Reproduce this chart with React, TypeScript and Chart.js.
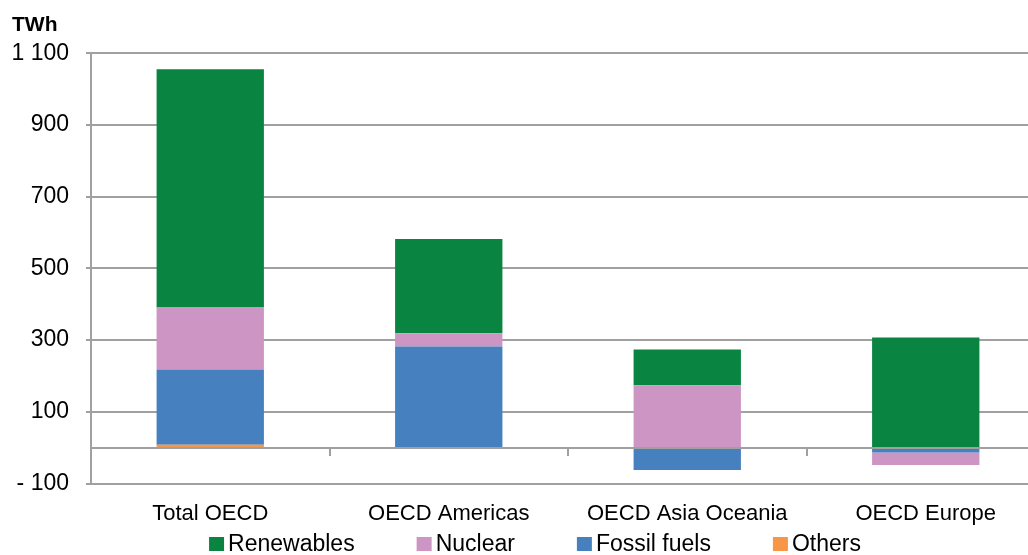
import React, { useEffect, useRef } from "react";
import { Chart, registerables } from "chart.js";

Chart.register(...registerables);

const categories = ["Total OECD", "OECD Americas", "OECD Asia Oceania", "OECD Europe"];
const others = [8, 0, 0, 0];
const fossilFuels = [210, 282, -62, -13];
const nuclear = [173, 37, 174, -35];
const renewables = [664, 263, 100, 307];
const yTicks = { min: -100, max: 1100, step: 200 };

const FONT = "'Liberation Sans', Arial, sans-serif";
const GRID = "#a0a0a0";

const zeroLinePlugin = {
  id: "zeroLine",
  afterDatasetsDraw(chart: any) {
    const { ctx, chartArea, scales } = chart;
    const y0 = Math.round(scales.y.getPixelForValue(0));
    ctx.save();
    ctx.strokeStyle = GRID;
    ctx.lineWidth = 2;
    ctx.beginPath();
    ctx.moveTo(chartArea.left, y0);
    ctx.lineTo(chartArea.right, y0);
    const n = scales.x.ticks.length;
    for (let i = 0; i < n - 1; i++) {
      const xb = Math.round((scales.x.getPixelForTick(i) + scales.x.getPixelForTick(i + 1)) / 2);
      ctx.moveTo(xb, y0);
      ctx.lineTo(xb, y0 + 8);
    }
    ctx.stroke();
    ctx.restore();
  },
};

const legendPlugin = {
  id: "customLegend",
  afterDraw(chart: any) {
    const { ctx } = chart;
    const items = [...chart.data.datasets].reverse();
    ctx.save();
    ctx.font = `23px ${FONT}`;
    ctx.textBaseline = "alphabetic";
    ctx.textAlign = "left";
    const box = 15;
    const gapText = 4;
    const spacing = 62;
    const widths = items.map((d: any) => ctx.measureText(d.label).width);
    const total = widths.reduce((a: number, w: number) => a + box + gapText + w, 0) + spacing * (items.length - 1);
    let x = 535 - total / 2;
    const baseline = 551;
    items.forEach((d: any, i: number) => {
      ctx.fillStyle = d.backgroundColor;
      ctx.fillRect(x, baseline - 14, box, 14);
      ctx.fillStyle = "#000";
      ctx.fillText(d.label, x + box + gapText, baseline);
      x += box + gapText + widths[i] + spacing;
    });
    ctx.restore();
  },
};

function formatTick(v: number) {
  const s = String(Math.abs(v)).replace(/\B(?=(\d{3})+(?!\d))/g, " ");
  return v < 0 ? "- " + s : s;
}

export default function App() {
  const ref = useRef<HTMLCanvasElement | null>(null);
  useEffect(() => {
    if (!ref.current) return;
    const chart = new Chart(ref.current, {
      type: "bar",
      data: {
        labels: categories,
        datasets: [
          { label: "Others", data: others, backgroundColor: "#f79646" },
          { label: "Fossil fuels", data: fossilFuels, backgroundColor: "#4680be" },
          { label: "Nuclear", data: nuclear, backgroundColor: "#cd95c3" },
          { label: "Renewables", data: renewables, backgroundColor: "#0a8441" },
        ],
      },
      options: {
        responsive: false,
        animation: false,
        layout: { padding: { left: 12, right: 5, top: 13, bottom: 11 } },
        datasets: { bar: { barPercentage: 0.45, categoryPercentage: 1 } },
        plugins: {
          legend: { display: false },
          tooltip: { enabled: false },
          title: {
            display: true,
            text: "TWh",
            align: "start",
            color: "#000",
            font: { family: FONT, size: 21, weight: "bold" },
            padding: { top: 0, bottom: 15 },
          },
        },
        scales: {
          x: {
            stacked: true,
            grid: { display: false, drawTicks: false },
            border: { display: false },
            ticks: { color: "#000", font: { family: FONT, size: 22 }, padding: 17, maxRotation: 0 },
          },
          y: {
            stacked: true,
            min: yTicks.min,
            max: yTicks.max,
            afterFit(scale: any) {
              scale.width = 79;
            },
            ticks: {
              stepSize: yTicks.step,
              color: "#000",
              font: { family: FONT, size: 23 },
              padding: 17,
              callback: (v: any) => formatTick(Number(v)),
            },
            grid: { color: GRID, lineWidth: 2, tickLength: 5 },
            border: { display: true, color: GRID, width: 2 },
          },
        },
      },
      plugins: [zeroLinePlugin, legendPlugin],
    });
    return () => chart.destroy();
  }, []);
  return (
    <div style={{ position: "fixed", left: 0, top: 0, width: 1028, height: 555, overflow: "hidden", background: "#fff" }}>
      <canvas ref={ref} width={1050} height={555} style={{ display: "block" }} />
    </div>
  );
}
